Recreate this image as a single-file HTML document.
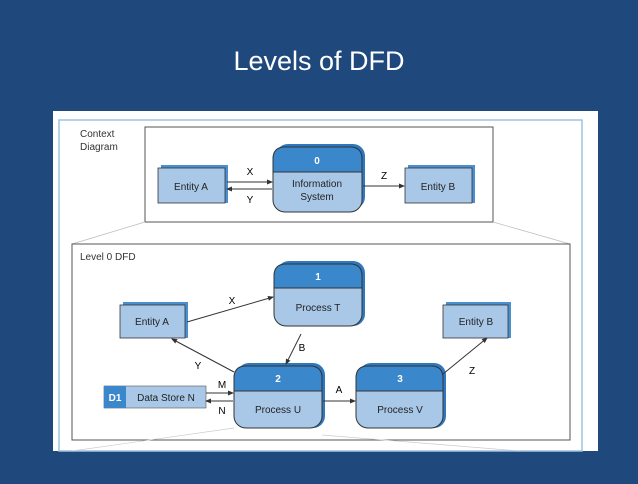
<!DOCTYPE html>
<html><head><style>
body{margin:0;width:638px;height:479px;overflow:hidden;background:#1f497d;font-family:"Liberation Sans",sans-serif;}
</style></head><body>
<svg width="638" height="479" xmlns="http://www.w3.org/2000/svg" font-family="Liberation Sans, sans-serif">
<defs>
<marker id="ar" markerWidth="6" markerHeight="6" refX="5" refY="3" orient="auto" markerUnits="userSpaceOnUse"><path d="M0,0.5 L6,3 L0,5.5z" fill="#333"/></marker>
</defs>
<rect width="638" height="479" fill="#1f497d"/>
<text x="319" y="70" fill="#fff" font-size="27" text-anchor="middle">Levels of DFD</text>
<rect x="53" y="111" width="545" height="340" fill="#fff"/>
<rect x="59" y="120" width="523" height="331" fill="none" stroke="#9fc3e0" stroke-width="1.5"/>
<text x="80" y="137" font-size="10" fill="#333">Context</text>
<text x="80" y="150" font-size="10" fill="#333">Diagram</text>
<rect x="145" y="127" width="348" height="95" fill="#fff" stroke="#555" stroke-width="1"/>
<line x1="145" y1="222" x2="72" y2="244" stroke="#bbb" stroke-width="0.7"/>
<line x1="493" y1="222" x2="570" y2="244" stroke="#bbb" stroke-width="0.7"/>
<!-- Context entities -->
<g>
<rect x="161" y="165" width="67" height="38" fill="#4a8fd0"/>
<rect x="158" y="168" width="67" height="35" fill="#a9c8e8" stroke="#333" stroke-width="0.8"/>
<text x="191" y="190" font-size="10" text-anchor="middle" fill="#222">Entity A</text>
<rect x="408" y="165" width="67" height="38" fill="#4a8fd0"/>
<rect x="405" y="168" width="67" height="35" fill="#a9c8e8" stroke="#333" stroke-width="0.8"/>
<text x="438" y="190" font-size="10" text-anchor="middle" fill="#222">Entity B</text>
</g>
<g>
<rect x="276" y="144" width="89" height="65" rx="12" fill="#2e78c0"/>
<rect x="273" y="147" width="89" height="65" rx="12" fill="#a9c8e8" stroke="#333" stroke-width="1"/>
<path d="M273,172 V159 Q273,147 285,147 H350 Q362,147 362,159 V172z" fill="#3b87cc" stroke="#333" stroke-width="1"/>
<text x="317" y="164" font-size="10" font-weight="bold" text-anchor="middle" fill="#fff">0</text>
<text x="317" y="187" font-size="10" text-anchor="middle" fill="#222">Information</text>
<text x="317" y="200" font-size="10" text-anchor="middle" fill="#222">System</text>
</g>
<line x1="227" y1="182" x2="272" y2="182" stroke="#333" marker-end="url(#ar)"/>
<line x1="272" y1="189" x2="227" y2="189" stroke="#333" marker-end="url(#ar)"/>
<text x="250" y="175" font-size="10" text-anchor="middle">X</text>
<text x="250" y="203" font-size="10" text-anchor="middle">Y</text>
<line x1="363" y1="186" x2="404" y2="186" stroke="#333" marker-end="url(#ar)"/>
<text x="384" y="179" font-size="10" text-anchor="middle">Z</text>

<rect x="72" y="244" width="498" height="196" fill="#fff" stroke="#555" stroke-width="1"/>
<text x="80" y="260" font-size="10" fill="#333">Level 0 DFD</text>
<line x1="234" y1="428" x2="72" y2="451" stroke="#ccc" stroke-width="0.7"/>
<line x1="322" y1="435" x2="520" y2="451" stroke="#ccc" stroke-width="0.7"/>

<rect x="123" y="302" width="65" height="36" fill="#4a8fd0"/>
<rect x="120" y="305" width="65" height="33" fill="#a9c8e8" stroke="#333" stroke-width="0.8"/>
<text x="152" y="325" font-size="10" text-anchor="middle" fill="#222">Entity A</text>
<rect x="446" y="302" width="65" height="36" fill="#4a8fd0"/>
<rect x="443" y="305" width="65" height="33" fill="#a9c8e8" stroke="#333" stroke-width="0.8"/>
<text x="476" y="325" font-size="10" text-anchor="middle" fill="#222">Entity B</text>

<g>
<rect x="277" y="261" width="88" height="65" rx="12" fill="#2e78c0"/>
<rect x="274" y="264" width="88" height="62" rx="12" fill="#a9c8e8" stroke="#333"/>
<path d="M274,288 V276 Q274,264 286,264 H350 Q362,264 362,276 V288z" fill="#3b87cc" stroke="#333"/>
<text x="318" y="280" font-size="10" font-weight="bold" text-anchor="middle" fill="#fff">1</text>
<text x="318" y="311" font-size="10" text-anchor="middle" fill="#222">Process T</text>
</g>
<g>
<rect x="237" y="363" width="88" height="65" rx="12" fill="#2e78c0"/>
<rect x="234" y="366" width="88" height="62" rx="12" fill="#a9c8e8" stroke="#333"/>
<path d="M234,391 V378 Q234,366 246,366 H310 Q322,366 322,378 V391z" fill="#3b87cc" stroke="#333"/>
<text x="278" y="382" font-size="10" font-weight="bold" text-anchor="middle" fill="#fff">2</text>
<text x="278" y="413" font-size="10" text-anchor="middle" fill="#222">Process U</text>
</g>
<g>
<rect x="359" y="363" width="87" height="65" rx="12" fill="#2e78c0"/>
<rect x="356" y="366" width="87" height="62" rx="12" fill="#a9c8e8" stroke="#333"/>
<path d="M356,391 V378 Q356,366 368,366 H431 Q443,366 443,378 V391z" fill="#3b87cc" stroke="#333"/>
<text x="400" y="382" font-size="10" font-weight="bold" text-anchor="middle" fill="#fff">3</text>
<text x="400" y="413" font-size="10" text-anchor="middle" fill="#222">Process V</text>
</g>
<rect x="104" y="386" width="102" height="22" fill="#a9c8e8" stroke="#555" stroke-width="0.6"/>
<rect x="104" y="386" width="22" height="22" fill="#3b87cc"/>
<text x="115" y="401" font-size="10" font-weight="bold" text-anchor="middle" fill="#fff">D1</text>
<text x="166" y="401" font-size="10" text-anchor="middle" fill="#222">Data Store N</text>

<line x1="187" y1="322" x2="273" y2="297" stroke="#333" marker-end="url(#ar)"/>
<text x="232" y="304" font-size="10" text-anchor="middle">X</text>
<line x1="301" y1="334" x2="286" y2="364" stroke="#333" marker-end="url(#ar)"/>
<text x="302" y="351" font-size="10" text-anchor="middle">B</text>
<line x1="234" y1="372" x2="172" y2="339" stroke="#333" marker-end="url(#ar)"/>
<text x="198" y="369" font-size="10" text-anchor="middle">Y</text>
<line x1="206" y1="393" x2="233" y2="393" stroke="#333" marker-end="url(#ar)"/>
<line x1="233" y1="401" x2="206" y2="401" stroke="#333" marker-end="url(#ar)"/>
<text x="222" y="388" font-size="10" text-anchor="middle">M</text>
<text x="222" y="414" font-size="10" text-anchor="middle">N</text>
<line x1="323" y1="401" x2="355" y2="401" stroke="#333" marker-end="url(#ar)"/>
<text x="339" y="393" font-size="10" text-anchor="middle">A</text>
<line x1="443" y1="374" x2="487" y2="338" stroke="#333" marker-end="url(#ar)"/>
<text x="472" y="374" font-size="10" text-anchor="middle">Z</text>
</svg>
</body></html>
